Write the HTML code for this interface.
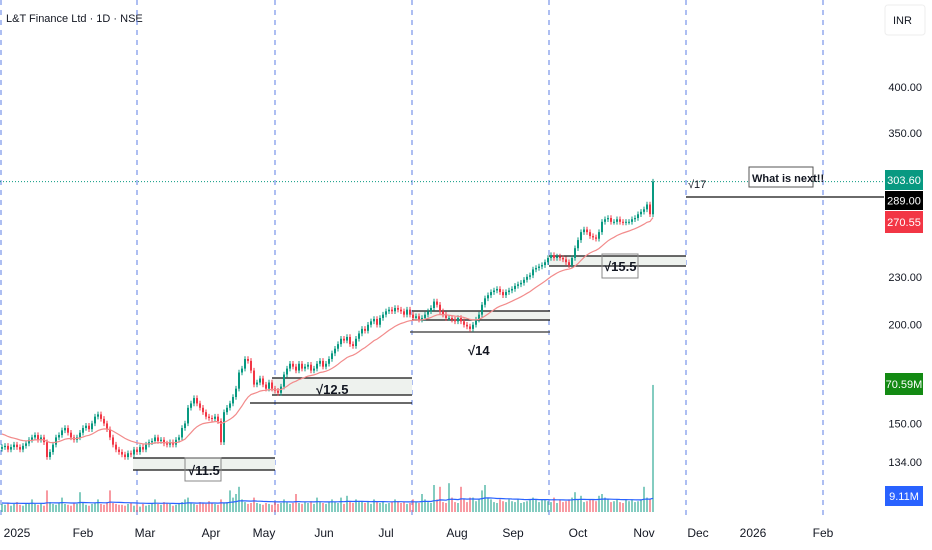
<!DOCTYPE html>
<html><head><meta charset="utf-8"><style>
body{margin:0;background:#fff;font-family:"Liberation Sans",sans-serif;}
svg{display:block}
</style></head><body>
<svg id="chart" width="932" height="550" xmlns="http://www.w3.org/2000/svg" font-family="Liberation Sans, sans-serif">
<text x="6" y="22" font-size="11" fill="#131722">L&amp;T Finance Ltd · 1D · NSE</text>
<g id="grid"></g><g id="zones"></g><g id="vol"></g><g id="candles"></g><g id="overlay"></g><g id="axis"></g>
</svg>
<script>
const closes=[140,140.5,139,140,141,140,139,140.5,141.5,143,
144,145,143,144,142,136,138,141,144,145,
147,148,146,144,143,144,146,148,149,147.5,
150,153,154,152,150,147.5,144,141,139,138,
137,136,137.5,137,139,138,140,139,141,142,
142.5,144,142.5,143,141.5,141,142,141,143,144,
148,150,157,159,161.5,159,157,155,153,152.4,
152,153,151,142,155,157,159,162,166,174,
176,181,180,175,168,169,171,168,166,169,
166,165,164,167,173,176,178.5,177,175,178.5,
176,177,178,175,176,178.5,180,177,178.5,181,
184,186.5,189,192,191,193,189,188,192,195,
197.6,196.5,200,202,203.4,200,204,206,208,209,
208,210,209,208,206,209,206,204,205,203,
204,206,208,210,214,212,208,206,204,204,
203,202,204,202,200,199,197.6,200,203,206,
212,216,218,220,221,222,220,218,220,221,
222,224,225,226,228,230,231,235,236,237,
238,240,243,245,243,244,243,242,240,238,
243,250,256,262,264,262,259,258,257,262,
270,272,273,270,270,272,270,269.5,270,270,
272,273,276,278,280,284,276,303.6];
const volumes=[4.5,4,5,3.5,4.5,5.5,4,3.5,5,4.5,
7,4.5,4,5,3.5,12,5.5,4.5,4,5,
8,4.5,4,3.5,5,4.5,11,5.5,4,3.5,
4.5,5,7,4.5,4,5.5,12,5,4.5,4,
4,3.5,4.5,5,3.5,4,3,4.5,3.5,4,
5,7,4.5,4,5.5,5,4.5,3.5,4,4.5,
5.5,7,8,5,4.5,4,5.5,5,4.5,6,
5,4.5,4,7,5,5.5,12,8,10,14,
7,5.5,4.5,5,8,5,4.5,4,5,4.5,
4,5.5,4.5,5,7,5.5,4.5,5,10,5,
4.5,5.5,5,6,4.5,8,5.5,5,4.5,5.5,
7,5.5,5,8,4.5,9,6,5,7,5.5,
6,5,5.5,4.5,7,5.5,5,6,4.5,5,
5.5,7,6,5,5.5,4.5,5,7,5.5,5,
10,7,5.5,5,15,7,14,5.5,5,16,
8,5.5,5,14,7,5.5,8,8,6,7,
12,15,8,7,5.5,5,7,6,5.5,7,
6,5.5,7,5,5.5,6,7,8,7,5.5,
7,7,6,5.5,8,5,7,5.5,6,7,
8,11,7,9,5.5,6,7,7,6,9,
10,8,7,5.5,6,7,5.5,5,7,6,
7,5.5,6,7,14,8,7,70.59];
const priceTicks=[400,350,230,200,150,134];
const monthLabels=["2025","Feb","Mar","Apr","May","Jun","Jul","Aug","Sep","Oct","Nov","Dec","2026","Feb"];
const monthX=[17,83,145,211,264,324,386,457,513,578,644,698,753,823];
const NS="http://www.w3.org/2000/svg";
function yP(p){return 87+(Math.log(400)-Math.log(p))*343;}
function xI(i){return 2+3*i;}
function yV(v){return 512-v*1.8;}
function mk(tag,attrs,parent){const e=document.createElementNS(NS,tag);for(const k in attrs)e.setAttribute(k,attrs[k]);parent.appendChild(e);return e;}
const grid=document.getElementById('grid'),zones=document.getElementById('zones'),vol=document.getElementById('vol'),cg=document.getElementById('candles'),ov=document.getElementById('overlay'),ax=document.getElementById('axis');
[1,137,275,412,549,686,823].forEach(x=>{const l=mk('line',{x1:x,x2:x,y1:0,y2:515,stroke:'#5b7ee5','stroke-dasharray':'5,5','stroke-width':1},grid);

});
function zone(x1,x2,ya,yb,name){const r=mk('rect',{x:x1,y:ya,width:x2-x1,height:yb-ya,fill:'#eef2ee'},zones);


mk('line',{x1:x1,x2:x2,y1:ya,y2:ya,stroke:'#111','stroke-width':1.3},zones);mk('line',{x1:x1,x2:x2,y1:yb,y2:yb,stroke:'#111','stroke-width':1.3},zones);}
zone(133,275,458,470,'zone-11-5');zone(272,412,378,395,'zone-12-5');
mk('line',{x1:250,x2:412,y1:403,y2:403,stroke:'#111','stroke-width':1.3},zones);
zone(412,550,311,320,'zone-14');mk('line',{x1:410,x2:550,y1:332,y2:332,stroke:'#555','stroke-width':1.5},zones);
zone(549,686,256,266,'zone-15-5');
mk('line',{x1:686,x2:884,y1:197,y2:197,stroke:'#111','stroke-width':1.3},zones);
for(let i=0;i<closes.length;i++){const prev=i?closes[i-1]:closes[0];const up=closes[i]>=prev;
const r=mk('rect',{x:xI(i)-1,y:yV(volumes[i]),width:2,height:512-yV(volumes[i]),fill:up?'rgba(8,153,129,0.5)':'rgba(242,54,69,0.5)'},vol);

}
let va=5,pts=[];for(let i=0;i<volumes.length;i++){va=va+(Math.min(volumes[i],16)-va)/20;pts.push(xI(i)+','+yV(va).toFixed(1));}
const vl=mk('polyline',{points:pts.join(' '),fill:'none',stroke:'#2962ff','stroke-width':1.2},vol);


for(let i=0;i<closes.length;i++){const o=i?closes[i-1]:closes[0]*0.995,c=closes[i];const up=c>=o;const col=up?'#089981':'#f23645';
const hi=Math.max(o,c)*1.008,lo=Math.min(o,c)*0.992;const x=xI(i);
mk('line',{x1:x,x2:x,y1:yP(hi),y2:yP(lo),stroke:col,'stroke-width':1},cg);
const b=mk('rect',{x:x-1,y:yP(Math.max(o,c)),width:2,height:Math.max(1,yP(Math.min(o,c))-yP(Math.max(o,c))),fill:col},cg);

}
let m=146,mp=[];for(let i=0;i<closes.length;i++){m=m+(closes[i]-m)*2/21;mp.push(xI(i)+','+yP(m).toFixed(1));}
const ml=mk('polyline',{points:mp.join(' '),fill:'none',stroke:'#f28b8b','stroke-width':1.2},ov);


mk('line',{x1:0,x2:884,y1:yP(303.6),y2:yP(303.6),stroke:'#089981','stroke-dasharray':'1,2','stroke-width':1},ov);
function txt(x,y,s,size,attrs,name){const t=mk('text',Object.assign({x:x,y:y,'font-size':size,fill:'#131722'},attrs||{}),ov);t.textContent=s;

return t;}
mk('rect',{x:185,y:458,width:36,height:23,fill:'none',stroke:'#888'},ov);
txt(188,475,'√11.5',13,{'font-weight':'bold'},'zone-label-11-5');
txt(316,394,'√12.5',13,{'font-weight':'bold'},'zone-label-12-5');
txt(468,355,'√14',13,{'font-weight':'bold'},'zone-label-14');
mk('rect',{x:602,y:254,width:36,height:24,fill:'none',stroke:'#888'},ov);
txt(604,271,'√15.5',13,{'font-weight':'bold'},'zone-label-15-5');
txt(688,188,'√17',11,{},'zone-label-17');
mk('rect',{x:749,y:167,width:64,height:20,fill:'#fff',stroke:'#555'},ov);
txt(752,182,'What is next!!',11,{'font-weight':'bold'},'annotation-what-is-next');
priceTicks.forEach(p=>{const t=mk('text',{x:922,y:yP(p)+4,'font-size':11,fill:'#131722','text-anchor':'end'},ax);t.textContent=p.toFixed(2);

});
const inr=mk('rect',{x:885,y:5,width:40,height:30,rx:3,fill:'#fff',stroke:'#eee'},ax);


const it=mk('text',{x:893,y:24,'font-size':11,fill:'#131722'},ax);it.textContent='INR';
function tag(y,h,bg,s,name){mk('rect',{x:885,y:y,width:38,height:h,fill:bg},ax);const t=mk('text',{x:904,y:y+h/2+4,'font-size':11,fill:'#fff','text-anchor':'middle'},ax);t.textContent=s;

}
tag(170,20,'#089981','303.60','last-price-tag');tag(191,19,'#000','289.00','level-tag-289');tag(211,22,'#f23645','270.55','ma-price-tag');
tag(373,22,'#138a13','70.59M','volume-tag');tag(486,20,'#2962ff','9.11M','volume-ma-tag');
monthLabels.forEach((s,i)=>{const t=mk('text',{x:monthX[i],y:537,'font-size':12,fill:'#131722','text-anchor':'middle'},ax);t.textContent=s;

});
</script>
</body></html>
